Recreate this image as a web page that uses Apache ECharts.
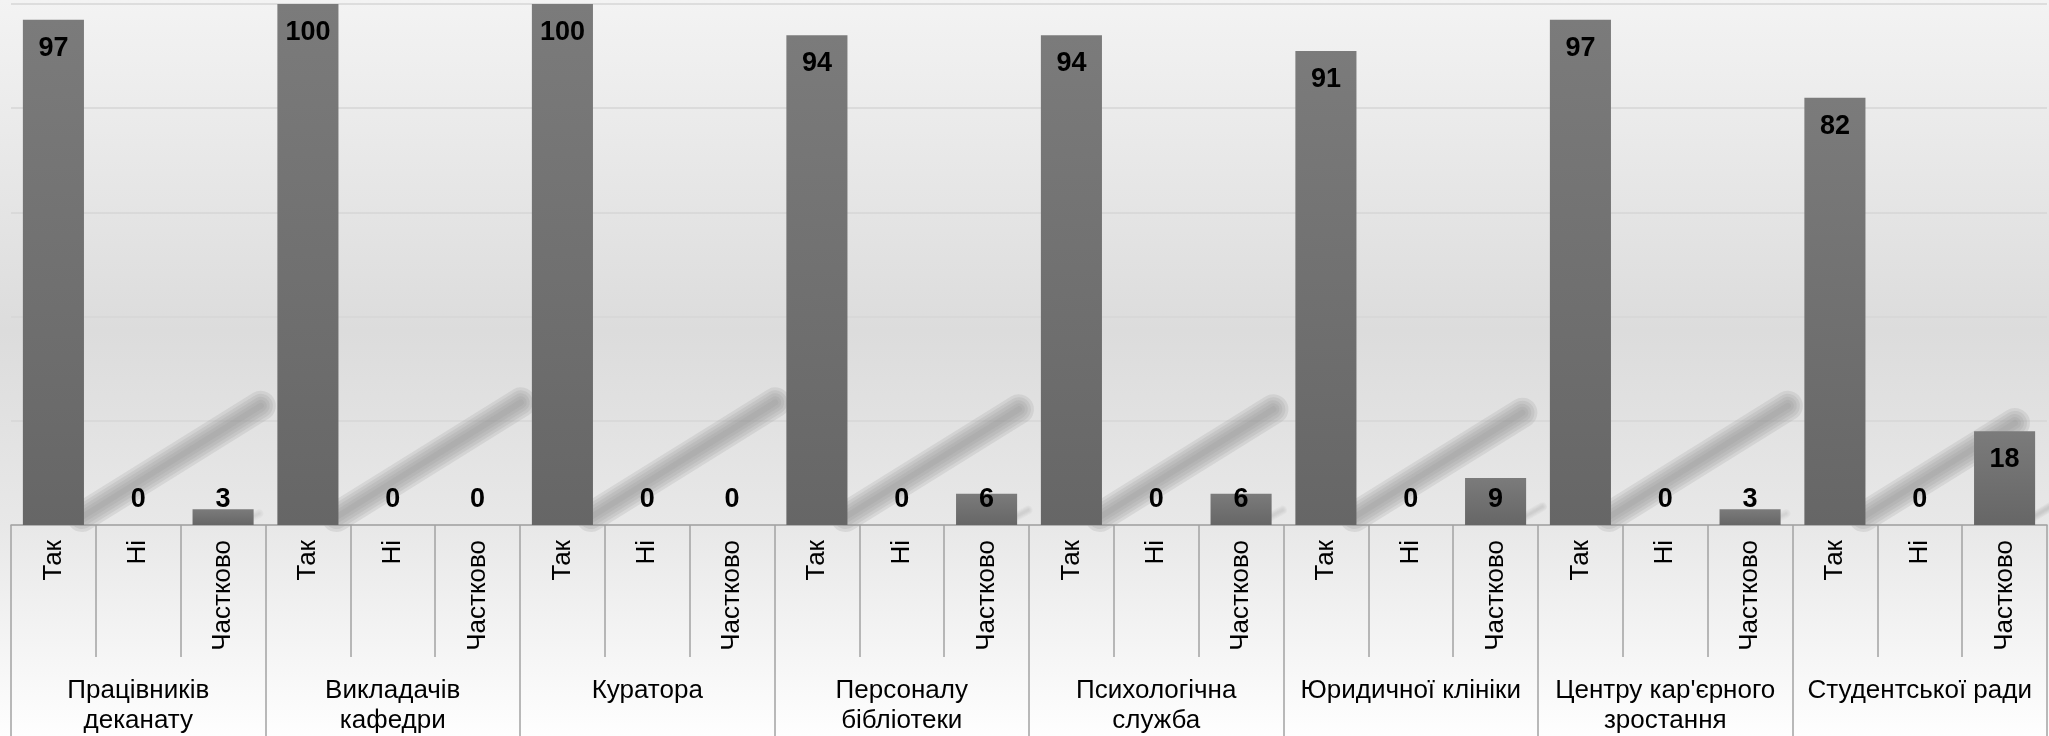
<!DOCTYPE html>
<html>
<head>
<meta charset="utf-8">
<script src="https://cdn.jsdelivr.net/npm/echarts@6/dist/echarts.min.js"></script>
<style>
html,body{margin:0;padding:0;width:2049px;height:736px;overflow:hidden;background:#fff;}
#chart{width:2049px;height:736px;}
</style>
</head>
<body>
<div id="chart"></div>
<script>
const groups = ['Працівників\nдеканату', 'Викладачів\nкафедри', 'Куратора', 'Персоналу\nбібліотеки', 'Психологічна\nслужба', 'Юридичної клініки', "Центру кар'єрного\nзростання", 'Студентської ради'];
const answers = ['Так', 'Ні', 'Частково'];
const tak = [97, 100, 100, 94, 94, 91, 97, 82];
const ni = [0, 0, 0, 0, 0, 0, 0, 0];
const chastkovo = [3, 0, 0, 6, 6, 9, 3, 18];
const yTicks = [0, 20, 40, 60, 80, 100];

const subCats = [];
const values = [];
groups.forEach((g, i) => {
  subCats.push(answers[0], answers[1], answers[2]);
  values.push(tak[i], ni[i], chastkovo[i]);
});

const FONT = 'Liberation Sans, Arial, sans-serif';

const barData = values.map(v => ({
  value: v,
  label: v < 11 ? { position: 'insideBottom', distance: 12 } : { position: 'insideTop', distance: 15 }
}));
const shadowData = values.map((v, i) => [i, v]);

const chart = echarts.init(document.getElementById('chart'));
chart.setOption({
  animation: false,
  backgroundColor: new echarts.graphic.LinearGradient(0, 0, 0, 1, [
    { offset: 0, color: '#f3f3f3' },
    { offset: 0.45, color: '#dcdcdc' },
    { offset: 0.715, color: '#e8e8e8' },
    { offset: 1, color: '#fefefe' }
  ]),
  grid: { left: 11, right: 2, top: 4, bottom: 210, containLabel: false },
  xAxis: [
    {
      type: 'category',
      data: subCats,
      position: 'bottom',
      boundaryGap: true,
      axisLine: { show: true, lineStyle: { color: '#a3a3a3', width: 1.5 } },
      axisTick: { show: true, interval: 0, length: 132, lineStyle: { color: '#a3a3a3', width: 1.5 } },
      axisLabel: { interval: 0, rotate: 90, margin: 15, color: '#000', fontSize: 26, fontFamily: FONT }
    },
    {
      type: 'category',
      data: groups,
      position: 'bottom',
      offset: 0,
      boundaryGap: true,
      axisLine: { show: false },
      axisTick: { show: true, interval: 0, length: 215, lineStyle: { color: '#a3a3a3', width: 1.5 } },
      axisLabel: { interval: 0, margin: 151, color: '#000', fontSize: 26, lineHeight: 30, fontFamily: FONT, verticalAlign: 'top' }
    }
  ],
  yAxis: {
    type: 'value',
    min: yTicks[0],
    max: yTicks[yTicks.length - 1],
    interval: 20,
    axisLine: { show: false },
    axisTick: { show: false },
    axisLabel: { show: false },
    splitLine: { show: true, lineStyle: { color: '#d6d6d6', width: 1.5 } }
  },
  series: [
    {
      type: 'custom',
      xAxisIndex: 0,
      z: 1,
      silent: true,
      data: shadowData,
      encode: { x: 0, y: 1 },
      renderItem: function (params, api) {
        const idx = api.value(0), v = api.value(1);
        const top = api.coord([idx, v]);
        const base = api.coord([idx, 0]);
        const band = api.size([1, 0])[0];
        const h = base[1] - top[1];
        if (h <= 0) return null;
        const x0 = base[0] + band * 0.36;
        const scale = Math.min(1, h / 300);
        const shape = { x1: x0 - 2, y1: base[1] - 8, x2: x0 + 0.35 * h, y2: base[1] - 8 - 0.22 * h };
        const widths = [30, 24, 18, 12, 6];
        const children = widths.map(w => ({
          type: 'line',
          shape: shape,
          style: {
            stroke: 'rgba(150,150,150,' + (0.16 * scale + 0.04) + ')',
            lineWidth: Math.max(2, w * Math.max(scale, 0.3)),
            lineCap: 'round'
          }
        }));
        return { type: 'group', children: children };
      }
    },
    {
      type: 'bar',
      xAxisIndex: 0,
      z: 3,
      barWidth: '72%',
      data: barData,
      itemStyle: {
        color: new echarts.graphic.LinearGradient(0, 0, 0, 1, [
          { offset: 0, color: '#7b7b7b' },
          { offset: 1, color: '#666666' }
        ])
      },
      label: {
        show: true,
        color: '#000',
        fontSize: 27,
        fontWeight: 'bold',
        fontFamily: FONT
      }
    }
  ]
});
</script>
</body>
</html>
